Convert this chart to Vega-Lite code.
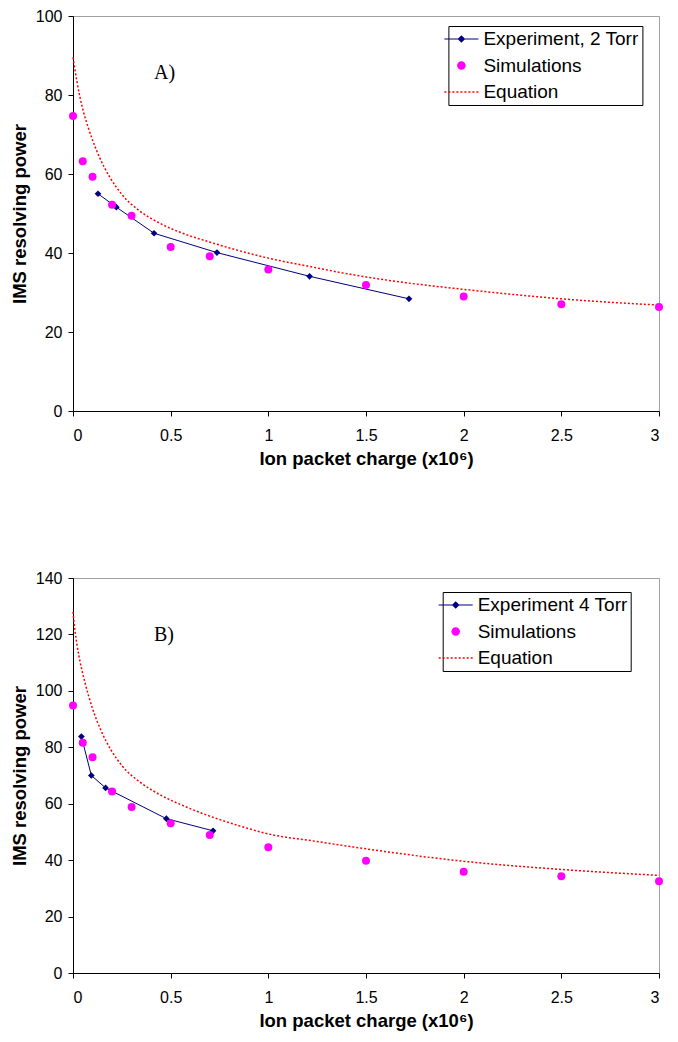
{
  "$schema": "https://vega.github.io/schema/vega-lite/v6.json",
  "background": "white",
  "padding": {"left": 9, "top": 7, "right": 5, "bottom": 5},
  "spacing": 167,
  "bounds": "flush",
  "config": {
    "font": "Liberation Sans",
    "view": {"stroke": "#a0a0a0", "strokeWidth": 1},
    "axis": {
      "domainColor": "black", "tickColor": "black", "grid": false,
      "labelColor": "black", "titleColor": "black",
      "labelFont": "Liberation Sans", "labelFontSize": 16,
      "titleFont": "Liberation Sans", "titleFontSize": 18.5, "titleFontWeight": "bold",
      "tickSize": 5, "domainWidth": 1, "tickWidth": 1, "labelOverlap": false
    },
    "axisX": {"labelPadding": 11, "titlePadding": 6},
    "axisY": {"labelPadding": 6, "titlePadding": 6},
    "legend": {
      "orient": "none", "title": null, "strokeColor": "black", "fillColor": "white",
      "padding": 3, "rowPadding": 6.5, "labelOffset": 12, "symbolSize": 400,
      "symbolStrokeWidth": 0, "symbolOpacity": 1,
      "labelFont": "Liberation Sans", "labelFontSize": 19, "labelColor": "black", "labelLimit": 400
    },
    "title": {"font": "Liberation Serif", "fontSize": 20, "fontWeight": "normal", "color": "black"}
  },
  "datasets": {
    "a": [
      {"series": "Experiment, 2 Torr", "x": 0.128, "y": 55.0},
      {"series": "Experiment, 2 Torr", "x": 0.222, "y": 51.6},
      {"series": "Experiment, 2 Torr", "x": 0.415, "y": 45.0},
      {"series": "Experiment, 2 Torr", "x": 0.737, "y": 40.1},
      {"series": "Experiment, 2 Torr", "x": 1.211, "y": 34.1},
      {"series": "Experiment, 2 Torr", "x": 1.72, "y": 28.4},
      {"series": "Simulations", "x": 0, "y": 74.7},
      {"series": "Simulations", "x": 0.05, "y": 63.2},
      {"series": "Simulations", "x": 0.1, "y": 59.3},
      {"series": "Simulations", "x": 0.2, "y": 52.2},
      {"series": "Simulations", "x": 0.3, "y": 49.4},
      {"series": "Simulations", "x": 0.5, "y": 41.5},
      {"series": "Simulations", "x": 0.7, "y": 39.2},
      {"series": "Simulations", "x": 1.0, "y": 35.8},
      {"series": "Simulations", "x": 1.5, "y": 31.9},
      {"series": "Simulations", "x": 2.0, "y": 29.0},
      {"series": "Simulations", "x": 2.5, "y": 27.0},
      {"series": "Simulations", "x": 3.0, "y": 26.3},
      {"series": "Equation", "x": 0, "y": 89.5},
      {"series": "Equation", "x": 0.01, "y": 86.4},
      {"series": "Equation", "x": 0.02, "y": 83.5},
      {"series": "Equation", "x": 0.035, "y": 79.6},
      {"series": "Equation", "x": 0.055, "y": 75.5},
      {"series": "Equation", "x": 0.075, "y": 72.2},
      {"series": "Equation", "x": 0.1, "y": 68.6},
      {"series": "Equation", "x": 0.135, "y": 64.3},
      {"series": "Equation", "x": 0.186, "y": 59.4},
      {"series": "Equation", "x": 0.254, "y": 54.6},
      {"series": "Equation", "x": 0.34, "y": 50.7},
      {"series": "Equation", "x": 0.442, "y": 47.6},
      {"series": "Equation", "x": 0.561, "y": 45.0},
      {"series": "Equation", "x": 0.698, "y": 42.8},
      {"series": "Equation", "x": 0.85, "y": 40.6},
      {"series": "Equation", "x": 1.0, "y": 38.7},
      {"series": "Equation", "x": 1.2, "y": 36.7},
      {"series": "Equation", "x": 1.42, "y": 34.6},
      {"series": "Equation", "x": 1.7, "y": 32.5},
      {"series": "Equation", "x": 2.0, "y": 30.8},
      {"series": "Equation", "x": 2.5, "y": 28.4},
      {"series": "Equation", "x": 3.0, "y": 26.8}
    ],
    "b": [
      {"series": "Experiment 4 Torr", "x": 0.043, "y": 83.8},
      {"series": "Experiment 4 Torr", "x": 0.094, "y": 70.0},
      {"series": "Experiment 4 Torr", "x": 0.167, "y": 65.6},
      {"series": "Experiment 4 Torr", "x": 0.478, "y": 54.7},
      {"series": "Experiment 4 Torr", "x": 0.717, "y": 50.4},
      {"series": "Simulations", "x": 0, "y": 94.8},
      {"series": "Simulations", "x": 0.05, "y": 81.6},
      {"series": "Simulations", "x": 0.1, "y": 76.5},
      {"series": "Simulations", "x": 0.2, "y": 64.3},
      {"series": "Simulations", "x": 0.3, "y": 58.8},
      {"series": "Simulations", "x": 0.5, "y": 53.1},
      {"series": "Simulations", "x": 0.7, "y": 48.9},
      {"series": "Simulations", "x": 1.0, "y": 44.6},
      {"series": "Simulations", "x": 1.5, "y": 39.8},
      {"series": "Simulations", "x": 2.0, "y": 35.9},
      {"series": "Simulations", "x": 2.5, "y": 34.3},
      {"series": "Simulations", "x": 3.0, "y": 32.5},
      {"series": "Equation", "x": 0, "y": 128.0},
      {"series": "Equation", "x": 0.005, "y": 124.5},
      {"series": "Equation", "x": 0.01, "y": 121.5},
      {"series": "Equation", "x": 0.02, "y": 116.5},
      {"series": "Equation", "x": 0.03, "y": 112.5},
      {"series": "Equation", "x": 0.045, "y": 107.5},
      {"series": "Equation", "x": 0.063, "y": 102.5},
      {"series": "Equation", "x": 0.08, "y": 98.2},
      {"series": "Equation", "x": 0.101, "y": 93.5},
      {"series": "Equation", "x": 0.143, "y": 86.0},
      {"series": "Equation", "x": 0.195, "y": 79.0},
      {"series": "Equation", "x": 0.254, "y": 73.2},
      {"series": "Equation", "x": 0.34, "y": 67.8},
      {"series": "Equation", "x": 0.442, "y": 63.3},
      {"series": "Equation", "x": 0.561, "y": 59.4},
      {"series": "Equation", "x": 0.7, "y": 55.6},
      {"series": "Equation", "x": 0.85, "y": 52.2},
      {"series": "Equation", "x": 1.0, "y": 49.3},
      {"series": "Equation", "x": 1.25, "y": 46.6},
      {"series": "Equation", "x": 1.5, "y": 44.0},
      {"series": "Equation", "x": 2.0, "y": 39.6},
      {"series": "Equation", "x": 2.5, "y": 36.7},
      {"series": "Equation", "x": 3.0, "y": 34.6}
    ]
  },
  "resolve": {
    "scale": {"color": "independent", "shape": "independent", "y": "independent"},
    "legend": {"color": "independent", "shape": "independent"}
  },
  "vconcat": [
    {
      "width": 586, "height": 395,
      "data": {"name": "a"},
      "title": {"text": "A)", "anchor": "start", "frame": "group", "offset": 0, "dx": 81, "dy": 91, "baseline": "alphabetic"},
      "encoding": {
        "x": {"field": "x", "type": "quantitative", "scale": {"domain": [0, 3], "nice": false}, "axis": {"values": [0, 0.5, 1, 1.5, 2, 2.5, 3], "format": "~g", "title": "Ion packet charge (x10⁶)"}},
        "y": {"field": "y", "type": "quantitative", "scale": {"domain": [0, 100], "nice": false}, "axis": {"values": [0, 20, 40, 60, 80, 100], "title": "IMS resolving power"}}
      },
      "layer": [
        {"transform": [{"filter": "datum.series == 'Equation'"}], "mark": {"type": "line", "color": "#ff0000", "strokeWidth": 1.5, "strokeDash": [2, 2], "interpolate": "monotone"}},
        {"transform": [{"filter": "datum.series == 'Experiment, 2 Torr'"}], "mark": {"type": "line", "color": "#000080", "strokeWidth": 1}},
        {"transform": [{"filter": "datum.series == 'Experiment, 2 Torr'"}], "mark": {"type": "point", "shape": "diamond", "filled": true, "color": "#000080", "size": 45, "opacity": 1}},
        {"transform": [{"filter": "datum.series == 'Simulations'"}], "mark": {"type": "point", "shape": "circle", "filled": true, "color": "#ff00ff", "size": 64, "opacity": 1}},
        {
          "mark": {"type": "point", "filled": true, "opacity": 0, "size": 400},
          "encoding": {
            "color": {"field": "series", "type": "nominal", "scale": {"domain": ["Experiment, 2 Torr", "Simulations", "Equation"], "range": ["#000080", "#ff00ff", "#ff0000"]}, "legend": {"legendX": 375.4, "legendY": 10}},
            "shape": {"field": "series", "type": "nominal", "scale": {"domain": ["Experiment, 2 Torr", "Simulations", "Equation"], "range": [
              "M-1.7,-0.05H1.7V0.05H-1.7Z M0,-0.38L0.38,0L0,0.38L-0.38,0Z",
              "M-0.43,0A0.43,0.43 0 1,1 0.43,0A0.43,0.43 0 1,1 -0.43,0Z",
              "M-1.7,-0.07h0.2v0.14h-0.2Z M-1.3,-0.07h0.2v0.14h-0.2Z M-0.9,-0.07h0.2v0.14h-0.2Z M-0.5,-0.07h0.2v0.14h-0.2Z M-0.1,-0.07h0.2v0.14h-0.2Z M0.3,-0.07h0.2v0.14h-0.2Z M0.7,-0.07h0.2v0.14h-0.2Z M1.1,-0.07h0.2v0.14h-0.2Z M1.5,-0.07h0.2v0.14h-0.2Z"
            ]}, "legend": {"legendX": 375.4, "legendY": 10}}
          }
        }
      ]
    },
    {
      "width": 586, "height": 395,
      "data": {"name": "b"},
      "title": {"text": "B)", "anchor": "start", "frame": "group", "offset": 0, "dx": 81, "dy": 91, "baseline": "alphabetic"},
      "encoding": {
        "x": {"field": "x", "type": "quantitative", "scale": {"domain": [0, 3], "nice": false}, "axis": {"values": [0, 0.5, 1, 1.5, 2, 2.5, 3], "format": "~g", "title": "Ion packet charge (x10⁶)"}},
        "y": {"field": "y", "type": "quantitative", "scale": {"domain": [0, 140], "nice": false}, "axis": {"values": [0, 20, 40, 60, 80, 100, 120, 140], "title": "IMS resolving power"}}
      },
      "layer": [
        {"transform": [{"filter": "datum.series == 'Equation'"}], "mark": {"type": "line", "color": "#ff0000", "strokeWidth": 1.5, "strokeDash": [2, 2], "interpolate": "monotone"}},
        {"transform": [{"filter": "datum.series == 'Experiment 4 Torr'"}], "mark": {"type": "line", "color": "#000080", "strokeWidth": 1}},
        {"transform": [{"filter": "datum.series == 'Experiment 4 Torr'"}], "mark": {"type": "point", "shape": "diamond", "filled": true, "color": "#000080", "size": 45, "opacity": 1}},
        {"transform": [{"filter": "datum.series == 'Simulations'"}], "mark": {"type": "point", "shape": "circle", "filled": true, "color": "#ff00ff", "size": 64, "opacity": 1}},
        {
          "mark": {"type": "point", "filled": true, "opacity": 0, "size": 400},
          "encoding": {
            "color": {"field": "series", "type": "nominal", "scale": {"domain": ["Experiment 4 Torr", "Simulations", "Equation"], "range": ["#000080", "#ff00ff", "#ff0000"]}, "legend": {"legendX": 369.7, "legendY": 14}},
            "shape": {"field": "series", "type": "nominal", "scale": {"domain": ["Experiment 4 Torr", "Simulations", "Equation"], "range": [
              "M-1.7,-0.05H1.7V0.05H-1.7Z M0,-0.38L0.38,0L0,0.38L-0.38,0Z",
              "M-0.43,0A0.43,0.43 0 1,1 0.43,0A0.43,0.43 0 1,1 -0.43,0Z",
              "M-1.7,-0.07h0.2v0.14h-0.2Z M-1.3,-0.07h0.2v0.14h-0.2Z M-0.9,-0.07h0.2v0.14h-0.2Z M-0.5,-0.07h0.2v0.14h-0.2Z M-0.1,-0.07h0.2v0.14h-0.2Z M0.3,-0.07h0.2v0.14h-0.2Z M0.7,-0.07h0.2v0.14h-0.2Z M1.1,-0.07h0.2v0.14h-0.2Z M1.5,-0.07h0.2v0.14h-0.2Z"
            ]}, "legend": {"legendX": 369.7, "legendY": 14}}
          }
        }
      ]
    }
  ]
}
